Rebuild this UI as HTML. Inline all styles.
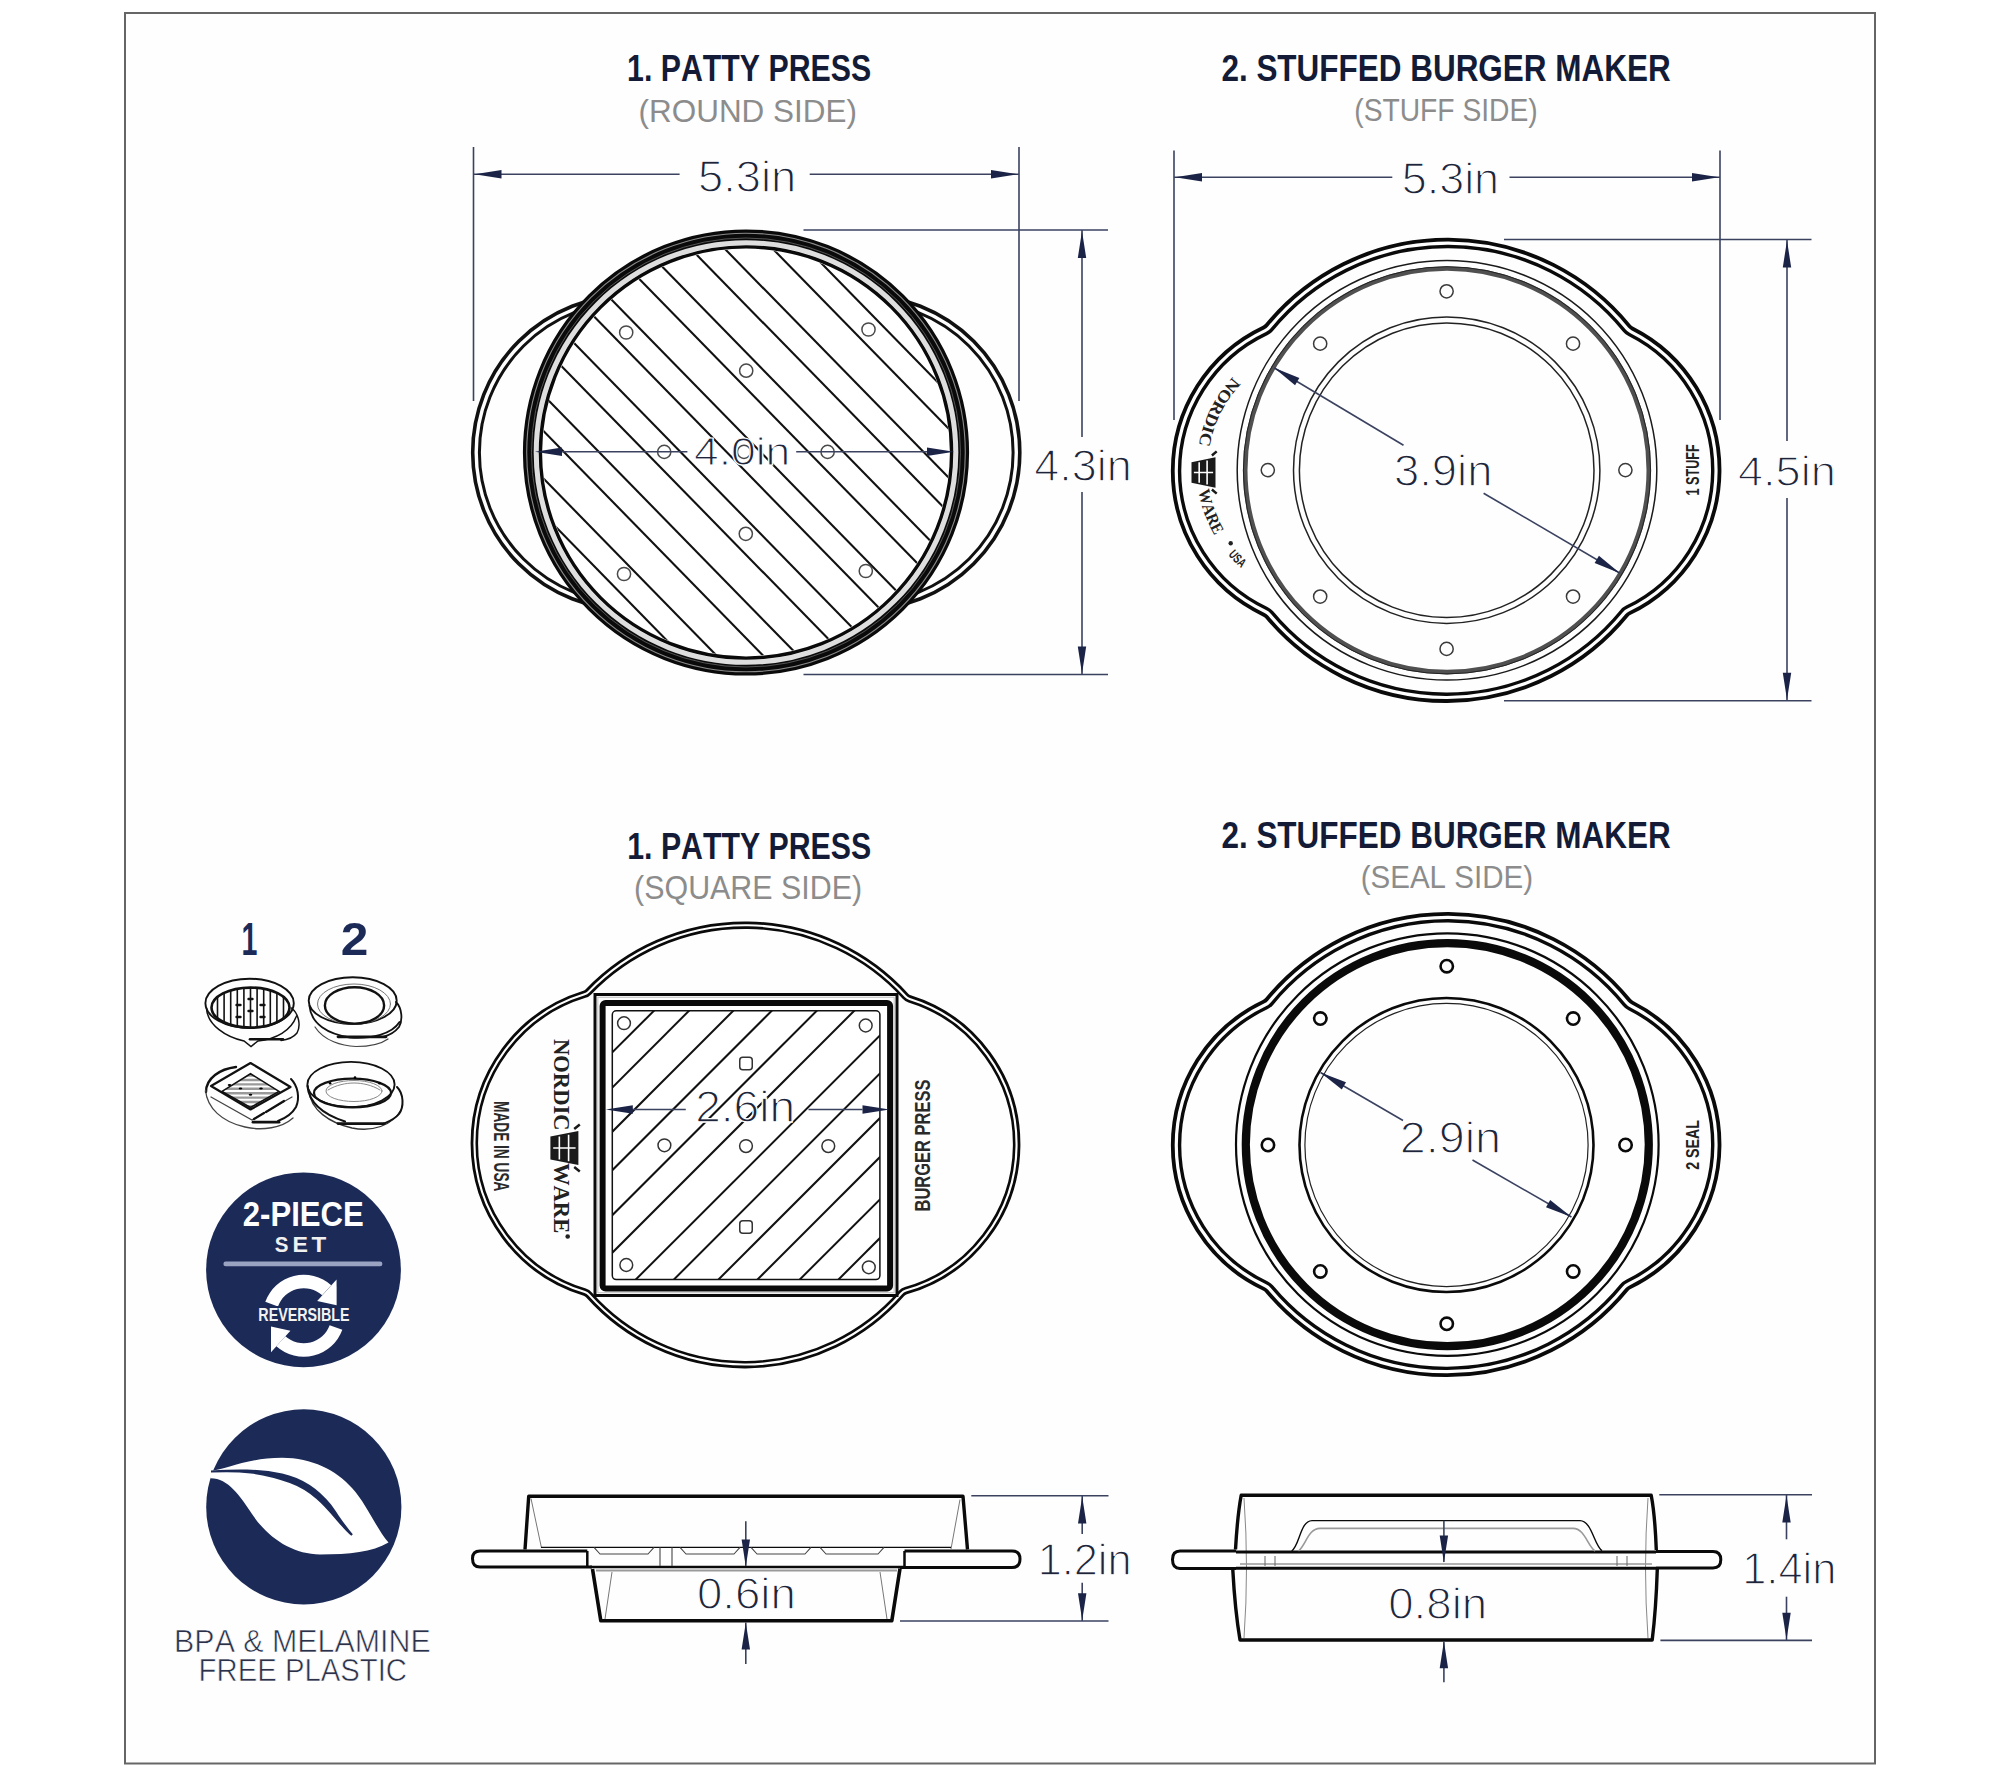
<!DOCTYPE html>
<html><head><meta charset="utf-8"><title>Burger Press Dimensions</title>
<style>
html,body{margin:0;padding:0;background:#fff;width:2000px;height:1778px;overflow:hidden}
svg{font-family:"Liberation Sans",sans-serif} svg text{font-kerning:none}
</style></head><body>
<svg xmlns="http://www.w3.org/2000/svg" width="2000" height="1778" viewBox="0 0 2000 1778" style="position:absolute;left:0;top:0">
<rect x="0" y="0" width="2000" height="1778" fill="#fff"/>
<rect x="125" y="13" width="1750" height="1750.5" fill="#fefefe" stroke="#666" stroke-width="2"/>
<text x="627.09" y="81.2" font-size="37.06" font-weight="bold" fill="#141b36" textLength="244.09" lengthAdjust="spacingAndGlyphs">1. PATTY PRESS</text>
<text x="638.55" y="121.7" font-size="31.54" font-weight="normal" fill="#8c8c8c" textLength="218.4" lengthAdjust="spacingAndGlyphs">(ROUND SIDE)</text>
<text x="1221.41" y="81" font-size="36.34" font-weight="bold" fill="#141b36" textLength="449.24" lengthAdjust="spacingAndGlyphs">2. STUFFED BURGER MAKER</text>
<text x="1354.25" y="121" font-size="31.98" font-weight="normal" fill="#8c8c8c" textLength="183.5" lengthAdjust="spacingAndGlyphs">(STUFF SIDE)</text>
<text x="627.29" y="858.75" font-size="37.06" font-weight="bold" fill="#141b36" textLength="243.89" lengthAdjust="spacingAndGlyphs">1. PATTY PRESS</text>
<text x="634.12" y="899.2" font-size="32.7" font-weight="normal" fill="#8c8c8c" textLength="227.97" lengthAdjust="spacingAndGlyphs">(SQUARE SIDE)</text>
<text x="1221.41" y="847.5" font-size="36.34" font-weight="bold" fill="#141b36" textLength="449.24" lengthAdjust="spacingAndGlyphs">2. STUFFED BURGER MAKER</text>
<text x="1360.67" y="887.5" font-size="30.89" font-weight="normal" fill="#8c8c8c" textLength="172.41" lengthAdjust="spacingAndGlyphs">(SEAL SIDE)</text>
<circle cx="630" cy="452.5" r="157.3" stroke="#111" stroke-width="3.6" fill="none"/>
<circle cx="630" cy="452.5" r="150.6" stroke="#111" stroke-width="3" fill="none"/>
<circle cx="862.5" cy="452.5" r="157.3" stroke="#111" stroke-width="3.6" fill="none"/>
<circle cx="862.5" cy="452.5" r="150.6" stroke="#111" stroke-width="3" fill="none"/>
<circle cx="746" cy="452.5" r="222" stroke="none" stroke-width="0" fill="#fff"/>
<clipPath id="cpR"><circle cx="746" cy="452.5" r="203.5"/></clipPath>
<g clip-path="url(#cpR)" stroke="#111" stroke-width="2.1">
<line x1="248.28" y1="212.5" x2="717.72" y2="692.5"/>
<line x1="283.28" y1="212.5" x2="752.72" y2="692.5"/>
<line x1="329.78" y1="212.5" x2="799.22" y2="692.5"/>
<line x1="364.78" y1="212.5" x2="834.22" y2="692.5"/>
<line x1="411.28" y1="212.5" x2="880.72" y2="692.5"/>
<line x1="446.28" y1="212.5" x2="915.72" y2="692.5"/>
<line x1="492.28" y1="212.5" x2="961.72" y2="692.5"/>
<line x1="526.28" y1="212.5" x2="995.72" y2="692.5"/>
<line x1="574.28" y1="212.5" x2="1043.72" y2="692.5"/>
<line x1="609.28" y1="212.5" x2="1078.72" y2="692.5"/>
<line x1="655.28" y1="212.5" x2="1124.72" y2="692.5"/>
<line x1="689.28" y1="212.5" x2="1158.72" y2="692.5"/>
<line x1="737.28" y1="212.5" x2="1206.72" y2="692.5"/>
<line x1="771.78" y1="212.5" x2="1241.22" y2="692.5"/>
</g>
<circle cx="746" cy="452.5" r="210" stroke="#dedede" stroke-width="5" fill="none"/>
<circle cx="746" cy="452.5" r="205.6" stroke="#0a0a0a" stroke-width="3.4" fill="none"/>
<circle cx="746" cy="452.5" r="217.7" stroke="#0a0a0a" stroke-width="10.8" fill="none"/>
<circle cx="746" cy="452.5" r="219.3" stroke="#8a8a8a" stroke-width="1.1" fill="none"/>
<circle cx="746" cy="452.5" r="214.5" stroke="#666" stroke-width="0.8" fill="none"/>
<circle cx="626.2" cy="332.5" r="6.6" stroke="#4a4a4a" stroke-width="1.5" fill="none"/>
<circle cx="746.2" cy="370.7" r="6.6" stroke="#4a4a4a" stroke-width="1.5" fill="none"/>
<circle cx="868.5" cy="329.5" r="6.6" stroke="#4a4a4a" stroke-width="1.5" fill="none"/>
<circle cx="664.2" cy="451.9" r="6.6" stroke="#4a4a4a" stroke-width="1.5" fill="none"/>
<circle cx="827.6" cy="451.9" r="6.6" stroke="#4a4a4a" stroke-width="1.5" fill="none"/>
<circle cx="745.8" cy="533.8" r="6.6" stroke="#4a4a4a" stroke-width="1.5" fill="none"/>
<circle cx="624" cy="574" r="6.6" stroke="#4a4a4a" stroke-width="1.5" fill="none"/>
<circle cx="865.8" cy="571" r="6.6" stroke="#4a4a4a" stroke-width="1.5" fill="none"/>
<circle cx="744" cy="451.9" r="6.6" stroke="#4a4a4a" stroke-width="1.5" fill="none"/>
<line x1="473.5" y1="147" x2="473.5" y2="401" stroke="#3a4260" stroke-width="1.6"/>
<line x1="1019" y1="147" x2="1019" y2="401" stroke="#3a4260" stroke-width="1.6"/>
<line x1="473.5" y1="174.3" x2="679.6" y2="174.3" stroke="#3a4260" stroke-width="1.6"/>
<line x1="809.7" y1="174.3" x2="1019" y2="174.3" stroke="#3a4260" stroke-width="1.6"/>
<polygon points="474.5,174.3 501.5,170.1 501.5,178.5" fill="#1b2447"/>
<polygon points="1018,174.3 991,178.5 991,170.1" fill="#1b2447"/>
<text x="697.99" y="191.6" font-size="44.19" font-weight="normal" fill="#1e2439" textLength="98.15" lengthAdjust="spacingAndGlyphs" stroke="#fff" stroke-width="1.3">5.3in</text>
<line x1="803.5" y1="230" x2="1108" y2="230" stroke="#3a4260" stroke-width="1.6"/>
<line x1="803.5" y1="674.5" x2="1108" y2="674.5" stroke="#3a4260" stroke-width="1.6"/>
<line x1="1082" y1="230" x2="1082" y2="437" stroke="#3a4260" stroke-width="1.6"/>
<line x1="1082" y1="492" x2="1082" y2="674.5" stroke="#3a4260" stroke-width="1.6"/>
<polygon points="1082,231 1086.2,258 1077.8,258" fill="#1b2447"/>
<polygon points="1082,673.5 1077.8,646.5 1086.2,646.5" fill="#1b2447"/>
<text x="1034.27" y="481.2" font-size="43.61" font-weight="normal" fill="#1e2439" textLength="97.55" lengthAdjust="spacingAndGlyphs" stroke="#fff" stroke-width="1.3">4.3in</text>
<line x1="560" y1="451.8" x2="687.4" y2="451.8" stroke="#3a4260" stroke-width="1.6"/>
<line x1="796.2" y1="451.8" x2="931" y2="451.8" stroke="#3a4260" stroke-width="1.6"/>
<polygon points="535,451.8 562,447.6 562,456" fill="#1b2447"/>
<polygon points="954,451.8 927,456 927,447.6" fill="#1b2447"/>
<text x="693.98" y="465" font-size="39.24" font-weight="normal" fill="#1e2439" textLength="96.3" lengthAdjust="spacingAndGlyphs" stroke="#fff" stroke-width="1.2">4.0in</text>
<path d="M1266.78 325.03 A234.34 234.34 0 0 1 1629.39 326.10 A9.00 9.00 0 0 0 1632.31 328.45 A158.77 158.77 0 0 1 1629.79 613.15 A9.00 9.00 0 0 0 1626.74 615.55 A233.46 233.46 0 0 1 1266.87 617.04 A9.00 9.00 0 0 0 1263.80 614.67 A158.84 158.84 0 0 1 1263.68 327.45 A9.00 9.00 0 0 0 1266.78 325.03 Z" fill="none" stroke="#0a0a0a" stroke-width="3.8" stroke-linejoin="round"/>
<path d="M1272.03 329.36 A227.54 227.54 0 0 1 1624.12 330.39 A15.80 15.80 0 0 0 1629.25 334.52 A151.97 151.97 0 0 1 1626.83 607.03 A15.80 15.80 0 0 0 1621.48 611.24 A226.66 226.66 0 0 1 1272.10 612.69 A15.80 15.80 0 0 0 1266.71 608.52 A152.04 152.04 0 0 1 1266.59 333.59 A15.80 15.80 0 0 0 1272.03 329.36 Z" fill="none" stroke="#0a0a0a" stroke-width="3.4" stroke-linejoin="round"/>
<circle cx="1447" cy="470.3" r="209.8" stroke="#1a1a1a" stroke-width="1.5" fill="none"/>
<circle cx="1447" cy="470.3" r="201.8" stroke="#505050" stroke-width="4.6" fill="none"/>
<circle cx="1447" cy="470.3" r="203.6" stroke="#222" stroke-width="1" fill="none"/>
<circle cx="1446.7" cy="470.2" r="153.2" stroke="#222" stroke-width="1.5" fill="none"/>
<circle cx="1446.7" cy="470.2" r="147.3" stroke="#222" stroke-width="1.5" fill="none"/>
<circle cx="1625.4" cy="470.1" r="6.6" stroke="#3a3a3a" stroke-width="1.5" fill="none"/>
<circle cx="1573.03" cy="596.53" r="6.6" stroke="#3a3a3a" stroke-width="1.5" fill="none"/>
<circle cx="1446.6" cy="648.9" r="6.6" stroke="#3a3a3a" stroke-width="1.5" fill="none"/>
<circle cx="1320.17" cy="596.53" r="6.6" stroke="#3a3a3a" stroke-width="1.5" fill="none"/>
<circle cx="1267.8" cy="470.1" r="6.6" stroke="#3a3a3a" stroke-width="1.5" fill="none"/>
<circle cx="1320.17" cy="343.67" r="6.6" stroke="#3a3a3a" stroke-width="1.5" fill="none"/>
<circle cx="1446.6" cy="291.3" r="6.6" stroke="#3a3a3a" stroke-width="1.5" fill="none"/>
<circle cx="1573.03" cy="343.67" r="6.6" stroke="#3a3a3a" stroke-width="1.5" fill="none"/>
<path id="arc1" d="M1232.78 376.81 A134.3 134.3 0 0 0 1198.74 445.08" fill="none"/>
<text font-size="16.72" font-weight="bold" font-family='"Liberation Serif", serif' fill="#222"><textPath href="#arc1" textLength="77.35" lengthAdjust="spacingAndGlyphs">NORDIC</textPath></text>
<g transform="translate(1203.5 472.5) rotate(90)">
<path d="M-15.3 -12 L15.3 -12 L10.2 12 L-10.2 12 Z" fill="#1a1a1a"/>
<path d="M-11.9 -3.6 L11.9 -3.6 M-10.2 4.32 L10.2 4.32 M0 -9.6 L0 9.6" stroke="#fff" stroke-width="1.6"/>
<path d="M-17 -8.4 L-21.08 -13.2 M17 -8.4 L21.08 -13.2" stroke="#1a1a1a" stroke-width="2.5"/>
</g>
<path id="arc2" d="M1198.54 490.57 A134.3 134.3 0 0 0 1214.69 535.55" fill="none"/>
<text font-size="16.72" font-weight="bold" font-family='"Liberation Serif", serif' fill="#222"><textPath href="#arc2" textLength="48.05" lengthAdjust="spacingAndGlyphs">WARE</textPath></text>
<circle cx="1230.7" cy="543.2" r="2.2" stroke="none" stroke-width="0" fill="#222"/>
<path id="arc3" d="M1228.12 554.73 A134.3 134.3 0 0 0 1241.14 568.2" fill="none"/>
<text font-size="13.08" font-weight="bold" font-family='"Liberation Sans", sans-serif' fill="#222"><textPath href="#arc3" textLength="18.75" lengthAdjust="spacingAndGlyphs">USA</textPath></text>
<text transform="translate(1693.2 469.9) rotate(-90)" x="0" y="6.1" font-size="17.73" font-weight="bold" font-family='"Liberation Sans", sans-serif' fill="#222" text-anchor="middle" textLength="51" lengthAdjust="spacingAndGlyphs">1 STUFF</text>
<line x1="1174" y1="150.5" x2="1174" y2="420" stroke="#3a4260" stroke-width="1.6"/>
<line x1="1720" y1="150.5" x2="1720" y2="420" stroke="#3a4260" stroke-width="1.6"/>
<line x1="1174" y1="177.3" x2="1392.3" y2="177.3" stroke="#3a4260" stroke-width="1.6"/>
<line x1="1509.5" y1="177.3" x2="1720" y2="177.3" stroke="#3a4260" stroke-width="1.6"/>
<polygon points="1175,177.3 1202,173.1 1202,181.5" fill="#1b2447"/>
<polygon points="1719,177.3 1692,181.5 1692,173.1" fill="#1b2447"/>
<text x="1401.7" y="193.75" font-size="43.75" font-weight="normal" fill="#1e2439" textLength="97.42" lengthAdjust="spacingAndGlyphs" stroke="#fff" stroke-width="1.3">5.3in</text>
<line x1="1504" y1="239.5" x2="1811.5" y2="239.5" stroke="#3a4260" stroke-width="1.6"/>
<line x1="1504" y1="700.7" x2="1811.5" y2="700.7" stroke="#3a4260" stroke-width="1.6"/>
<line x1="1787" y1="239.5" x2="1787" y2="441.1" stroke="#3a4260" stroke-width="1.6"/>
<line x1="1787" y1="498.1" x2="1787" y2="700.7" stroke="#3a4260" stroke-width="1.6"/>
<polygon points="1787,240.5 1791.2,267.5 1782.8,267.5" fill="#1b2447"/>
<polygon points="1787,699.7 1782.8,672.7 1791.2,672.7" fill="#1b2447"/>
<text x="1737.96" y="485.8" font-size="42.73" font-weight="normal" fill="#1e2439" textLength="97.87" lengthAdjust="spacingAndGlyphs" stroke="#fff" stroke-width="1.3">4.5in</text>
<line x1="1274" y1="367.75" x2="1403.5" y2="445.25" stroke="#3a4260" stroke-width="1.6"/>
<line x1="1483.6" y1="493.2" x2="1620" y2="573.25" stroke="#3a4260" stroke-width="1.6"/>
<polygon points="1274,367.75 1299.36,377.93 1295.07,385.15" fill="#1b2447"/>
<polygon points="1620,573.25 1594.64,563.07 1598.93,555.85" fill="#1b2447"/>
<text x="1394.02" y="485.85" font-size="44.19" font-weight="normal" fill="#1e2439" textLength="98.43" lengthAdjust="spacingAndGlyphs" stroke="#fff" stroke-width="1.3">3.9in</text>
<path d="M1266.78 999.23 A234.34 234.34 0 0 1 1629.39 1000.30 A9.00 9.00 0 0 0 1632.31 1002.65 A158.77 158.77 0 0 1 1629.79 1287.35 A9.00 9.00 0 0 0 1626.74 1289.75 A233.46 233.46 0 0 1 1266.87 1291.24 A9.00 9.00 0 0 0 1263.80 1288.87 A158.84 158.84 0 0 1 1263.68 1001.65 A9.00 9.00 0 0 0 1266.78 999.23 Z" fill="none" stroke="#0a0a0a" stroke-width="3.8" stroke-linejoin="round"/>
<path d="M1272.03 1003.56 A227.54 227.54 0 0 1 1624.12 1004.59 A15.80 15.80 0 0 0 1629.25 1008.72 A151.97 151.97 0 0 1 1626.83 1281.23 A15.80 15.80 0 0 0 1621.48 1285.44 A226.66 226.66 0 0 1 1272.10 1286.89 A15.80 15.80 0 0 0 1266.71 1282.72 A152.04 152.04 0 0 1 1266.59 1007.79 A15.80 15.80 0 0 0 1272.03 1003.56 Z" fill="none" stroke="#0a0a0a" stroke-width="3.4" stroke-linejoin="round"/>
<circle cx="1447.3" cy="1144.6" r="211.3" stroke="#0a0a0a" stroke-width="2.2" fill="none"/>
<circle cx="1447.3" cy="1144.6" r="201.5" stroke="#0a0a0a" stroke-width="8.2" fill="none"/>
<circle cx="1446.5" cy="1145" r="147" stroke="#0a0a0a" stroke-width="2.6" fill="none"/>
<circle cx="1446.5" cy="1145" r="141.6" stroke="#222" stroke-width="1.2" fill="none"/>
<circle cx="1625.55" cy="1145" r="6.2" stroke="#0a0a0a" stroke-width="2.6" fill="none"/>
<circle cx="1573.18" cy="1271.43" r="6.2" stroke="#0a0a0a" stroke-width="2.6" fill="none"/>
<circle cx="1446.75" cy="1323.8" r="6.2" stroke="#0a0a0a" stroke-width="2.6" fill="none"/>
<circle cx="1320.32" cy="1271.43" r="6.2" stroke="#0a0a0a" stroke-width="2.6" fill="none"/>
<circle cx="1267.95" cy="1145" r="6.2" stroke="#0a0a0a" stroke-width="2.6" fill="none"/>
<circle cx="1320.32" cy="1018.57" r="6.2" stroke="#0a0a0a" stroke-width="2.6" fill="none"/>
<circle cx="1446.75" cy="966.2" r="6.2" stroke="#0a0a0a" stroke-width="2.6" fill="none"/>
<circle cx="1573.18" cy="1018.57" r="6.2" stroke="#0a0a0a" stroke-width="2.6" fill="none"/>
<text transform="translate(1693.3 1145) rotate(-90)" x="0" y="6.1" font-size="17.73" font-weight="bold" font-family='"Liberation Sans", sans-serif' fill="#222" text-anchor="middle" textLength="49.6" lengthAdjust="spacingAndGlyphs">2 SEAL</text>
<line x1="1320.5" y1="1072.5" x2="1403" y2="1120.5" stroke="#3a4260" stroke-width="1.6"/>
<line x1="1472.5" y1="1160" x2="1571.5" y2="1217" stroke="#3a4260" stroke-width="1.6"/>
<polygon points="1320.5,1072.5 1345.99,1082.33 1341.8,1089.61" fill="#1b2447"/>
<polygon points="1571.5,1217 1546.01,1207.17 1550.2,1199.89" fill="#1b2447"/>
<text x="1399.65" y="1152.5" font-size="43.61" font-weight="normal" fill="#1e2439" textLength="101.39" lengthAdjust="spacingAndGlyphs" stroke="#fff" stroke-width="1.3">2.9in</text>
<path d="M586.76 990.18 A219.33 219.33 0 0 1 907.22 994.58 A7.00 7.00 0 0 0 910.32 996.55 A154.61 154.61 0 0 1 906.50 1292.95 A7.00 7.00 0 0 0 903.14 1295.07 A210.68 210.68 0 0 1 587.31 1296.48 A7.00 7.00 0 0 0 584.12 1294.44 A158.09 158.09 0 0 1 583.76 992.02 A7.00 7.00 0 0 0 586.76 990.18 Z" fill="none" stroke="#0a0a0a" stroke-width="2.8"/>
<path d="M590.22 993.50 A214.53 214.53 0 0 1 903.67 997.81 A11.80 11.80 0 0 0 908.89 1001.14 A149.81 149.81 0 0 1 905.19 1288.33 A11.80 11.80 0 0 0 899.52 1291.91 A205.88 205.88 0 0 1 590.89 1293.29 A11.80 11.80 0 0 0 585.51 1289.85 A153.29 153.29 0 0 1 585.17 996.61 A11.80 11.80 0 0 0 590.22 993.50 Z" fill="none" stroke="#0a0a0a" stroke-width="2.6"/>
<rect x="595" y="994.5" width="302" height="301" fill="#fff" stroke="#0a0a0a" stroke-width="3"/>
<rect x="597.8" y="997.3" width="296.4" height="295.4" fill="none" stroke="#c8c8c8" stroke-width="1.2"/>
<rect x="602.6" y="1003" width="287.5" height="285.5" rx="3" fill="none" stroke="#0a0a0a" stroke-width="6"/>
<clipPath id="cpS"><rect x="612.3" y="1010.8" width="267.6" height="268.8" rx="4"/></clipPath>
<g clip-path="url(#cpS)" stroke="#111" stroke-width="2">
<line x1="664.7" y1="1000" x2="364.7" y2="1300"/>
<line x1="699.8" y1="1000" x2="399.8" y2="1300"/>
<line x1="744" y1="1000" x2="444" y2="1300"/>
<line x1="782.5" y1="1000" x2="482.5" y2="1300"/>
<line x1="827.5" y1="1000" x2="527.5" y2="1300"/>
<line x1="865" y1="1000" x2="565" y2="1300"/>
<line x1="915.3" y1="1000" x2="615.3" y2="1300"/>
<line x1="953.4" y1="1000" x2="653.4" y2="1300"/>
<line x1="998" y1="1000" x2="698" y2="1300"/>
<line x1="1037" y1="1000" x2="737" y2="1300"/>
<line x1="1079.3" y1="1000" x2="779.3" y2="1300"/>
<line x1="1118" y1="1000" x2="818" y2="1300"/>
</g>
<rect x="612.3" y="1010.8" width="267.6" height="268.8" rx="4" fill="none" stroke="#111" stroke-width="1.5"/>
<circle cx="624" cy="1023.2" r="6.4" stroke="#333" stroke-width="1.5" fill="none"/>
<circle cx="865.7" cy="1025.5" r="6.4" stroke="#333" stroke-width="1.5" fill="none"/>
<circle cx="626.3" cy="1265" r="6.4" stroke="#333" stroke-width="1.5" fill="none"/>
<circle cx="868.8" cy="1267.3" r="6.4" stroke="#333" stroke-width="1.5" fill="none"/>
<circle cx="664.4" cy="1145.3" r="6.4" stroke="#333" stroke-width="1.5" fill="none"/>
<circle cx="746" cy="1146.1" r="6.4" stroke="#333" stroke-width="1.5" fill="none"/>
<circle cx="828.3" cy="1146.1" r="6.4" stroke="#333" stroke-width="1.5" fill="none"/>
<rect x="739.75" y="1057.35" width="12.5" height="12.5" rx="3" fill="none" stroke="#333" stroke-width="1.5"/>
<rect x="739.75" y="1220.75" width="12.5" height="12.5" rx="3" fill="none" stroke="#333" stroke-width="1.5"/>
<text transform="translate(561.3 1084.8) rotate(90)" x="0" y="7.75" font-size="22.53" font-weight="bold" font-family='"Liberation Serif", serif' fill="#222" text-anchor="middle" textLength="91.8" lengthAdjust="spacingAndGlyphs">NORDIC</text>
<g transform="translate(564.4 1148) rotate(90)">
<path d="M-17.1 -14 L17.1 -14 L11.4 14 L-11.4 14 Z" fill="#1a1a1a"/>
<path d="M-13.3 -4.2 L13.3 -4.2 M-11.4 5.04 L11.4 5.04 M0 -11.2 L0 11.2" stroke="#fff" stroke-width="1.6"/>
<path d="M-19 -9.8 L-23.56 -15.4 M19 -9.8 L23.56 -15.4" stroke="#1a1a1a" stroke-width="2.5"/>
</g>
<text transform="translate(561.3 1198.1) rotate(90)" x="0" y="7.75" font-size="22.53" font-weight="bold" font-family='"Liberation Serif", serif' fill="#222" text-anchor="middle" textLength="70.2" lengthAdjust="spacingAndGlyphs">WARE</text>
<circle cx="567.7" cy="1236.5" r="2.3" stroke="none" stroke-width="0" fill="#222"/>
<text transform="translate(501.2 1146.2) rotate(90)" x="0" y="7.5" font-size="21.8" font-weight="bold" font-family='"Liberation Sans", sans-serif' fill="#2a2a2a" text-anchor="middle" textLength="90.4" lengthAdjust="spacingAndGlyphs">MADE IN USA</text>
<text transform="translate(922.5 1145.5) rotate(-90)" x="0" y="7.5" font-size="21.8" font-weight="bold" font-family='"Liberation Sans", sans-serif' fill="#2a2a2a" text-anchor="middle" textLength="132" lengthAdjust="spacingAndGlyphs">BURGER PRESS</text>
<line x1="630.6" y1="1109.5" x2="685.8" y2="1109.5" stroke="#3a4260" stroke-width="1.6"/>
<line x1="808.5" y1="1109.5" x2="862.5" y2="1109.5" stroke="#3a4260" stroke-width="1.6"/>
<polygon points="605.8,1109.5 632.8,1105.3 632.8,1113.7" fill="#1b2447"/>
<polygon points="889.5,1109.5 862.5,1113.7 862.5,1105.3" fill="#1b2447"/>
<text x="695.19" y="1121.5" font-size="43.61" font-weight="normal" fill="#1e2439" textLength="99.8" lengthAdjust="spacingAndGlyphs" stroke="#fff" stroke-width="1.3">2.6in</text>
<g fill="none" stroke="#0a0a0a" stroke-linejoin="round">
<path d="M525 1549.5 L528.7 1496.3 L963 1496.3 L967.5 1549.5" stroke-width="3.4"/>
<path d="M531 1498.5 L541.5 1548 M960 1499.5 L951 1549" stroke-width="1" stroke="#777"/>
<path d="M587.3 1551 L480 1551 Q472.5 1551 472.5 1558.5 Q472.5 1567 480 1567 L592 1567" stroke-width="3"/>
<path d="M904.5 1551 L1012 1551 Q1020 1551 1020 1559 Q1020 1567.5 1012 1567.5 L900 1567.5" stroke-width="3"/>
<path d="M587.3 1551 L587.3 1567 M904.5 1551 L904.5 1567.5" stroke-width="2.5"/>
<path d="M541 1547.3 L951 1547.3" stroke-width="1.3"/>
<path d="M590 1567 L904 1567" stroke-width="2.6"/>
<path d="M596 1570.5 L897 1570.5" stroke-width="2.2" stroke="#9a9a9a"/>
<path d="M592.5 1569 L600.8 1620.8 L891.8 1620.8 L900 1568.5" stroke-width="3.6"/>
<path d="M612 1572 L605 1619 M880 1572 L887 1619" stroke-width="1" stroke="#777"/>
<path d="M594 1547.3 L600 1554 L648 1554 L654 1547.3 M660 1547.3 L660 1566 M672 1547.3 L672 1566 M680 1547.3 L686 1554 L734 1554 L740 1547.3 M751 1547.3 L757 1554 L805 1554 L811 1547.3 M820 1547.3 L826 1554 L878 1554 L884 1547.3" stroke-width="1.1" stroke="#444"/>
</g>
<line x1="971.3" y1="1495.8" x2="1108.5" y2="1495.8" stroke="#3a4260" stroke-width="1.6"/>
<line x1="900" y1="1621" x2="1108.5" y2="1621" stroke="#3a4260" stroke-width="1.6"/>
<line x1="1082.2" y1="1495.8" x2="1082.2" y2="1534" stroke="#3a4260" stroke-width="1.6"/>
<line x1="1082.2" y1="1582.8" x2="1082.2" y2="1621" stroke="#3a4260" stroke-width="1.6"/>
<polygon points="1082.2,1496.5 1086.4,1523.5 1078,1523.5" fill="#1b2447"/>
<polygon points="1082.2,1620.3 1078,1593.3 1086.4,1593.3" fill="#1b2447"/>
<text x="1037.7" y="1574.5" font-size="44.62" font-weight="normal" fill="#1e2439" textLength="93.86" lengthAdjust="spacingAndGlyphs" stroke="#fff" stroke-width="1.3">1.2in</text>
<line x1="745.8" y1="1521.3" x2="745.8" y2="1566" stroke="#3a4260" stroke-width="1.6"/>
<polygon points="745.8,1566.5 741.6,1539.5 750,1539.5" fill="#1b2447"/>
<line x1="745.8" y1="1622.5" x2="745.8" y2="1664" stroke="#3a4260" stroke-width="1.6"/>
<polygon points="745.8,1622.5 750,1649.5 741.6,1649.5" fill="#1b2447"/>
<text x="696.92" y="1608.9" font-size="44.91" font-weight="normal" fill="#1e2439" textLength="98.95" lengthAdjust="spacingAndGlyphs" stroke="#fff" stroke-width="1.3">0.6in</text>
<g fill="none" stroke="#0a0a0a" stroke-linejoin="round">
<path d="M1235.5 1549.5 Q1237.5 1515 1241.2 1495.2 L1651.2 1495.2 Q1655 1515 1656.3 1550" stroke-width="3.4"/>
<path d="M1232.8 1569.8 Q1235 1610 1240 1640 L1652.2 1640 Q1656 1610 1657.3 1569" stroke-width="3.4"/>
<path d="M1244 1498 Q1249 1568 1244 1638 M1648 1498 Q1643 1568 1648 1638" stroke-width="1" stroke="#888"/>
<path d="M1236 1551 L1180 1551 Q1172.5 1551 1172.5 1559.5 Q1172.5 1568.5 1180 1568.5 L1236 1568.5" stroke-width="3"/>
<path d="M1656 1551.5 L1713 1551.5 Q1720.8 1551.5 1720.8 1559.8 Q1720.8 1568 1713 1568 L1656 1568" stroke-width="3"/>
<path d="M1236 1552 L1656 1552" stroke-width="3"/>
<path d="M1236 1568.3 L1656 1568.3" stroke-width="3"/>
<path d="M1240 1564 L1652 1564" stroke-width="1.6" stroke="#999"/>
<path d="M1291.7 1551 C1300 1545 1300 1521 1312 1520.6 L1580 1520.6 C1592 1521 1594 1545 1602 1550.6" stroke-width="1.4"/>
<path d="M1298.5 1551 C1306 1545 1308 1528.6 1320 1528.4 L1573 1528.4 C1585 1528.6 1587 1545 1595 1551" stroke-width="1.6" stroke="#999"/>
<path d="M1265 1556 L1265 1566 M1275 1556 L1275 1566 M1617 1556 L1617 1566 M1627 1556 L1627 1566" stroke-width="1" stroke="#666"/>
</g>
<line x1="1659.3" y1="1494.8" x2="1812" y2="1494.8" stroke="#3a4260" stroke-width="1.6"/>
<line x1="1660.4" y1="1640.4" x2="1812" y2="1640.4" stroke="#3a4260" stroke-width="1.6"/>
<line x1="1786.5" y1="1494.8" x2="1786.5" y2="1539.3" stroke="#3a4260" stroke-width="1.6"/>
<line x1="1786.5" y1="1596.7" x2="1786.5" y2="1640.4" stroke="#3a4260" stroke-width="1.6"/>
<polygon points="1786.5,1495.5 1790.7,1522.5 1782.3,1522.5" fill="#1b2447"/>
<polygon points="1786.5,1639.8 1782.3,1612.8 1790.7,1612.8" fill="#1b2447"/>
<text x="1742.19" y="1584.4" font-size="44.62" font-weight="normal" fill="#1e2439" textLength="94.23" lengthAdjust="spacingAndGlyphs" stroke="#fff" stroke-width="1.3">1.4in</text>
<line x1="1443.9" y1="1520.8" x2="1443.9" y2="1562" stroke="#3a4260" stroke-width="1.6"/>
<polygon points="1443.9,1562.5 1439.7,1535.5 1448.1,1535.5" fill="#1b2447"/>
<line x1="1443.9" y1="1641.2" x2="1443.9" y2="1682.3" stroke="#3a4260" stroke-width="1.6"/>
<polygon points="1443.9,1641.2 1448.1,1668.2 1439.7,1668.2" fill="#1b2447"/>
<text x="1388.22" y="1619.3" font-size="44.19" font-weight="normal" fill="#1e2439" textLength="98.95" lengthAdjust="spacingAndGlyphs" stroke="#fff" stroke-width="1.3">0.8in</text>
<text x="241.5" y="954.8" font-size="46.95" font-weight="bold" fill="#1c2a58" textLength="15.9" lengthAdjust="spacingAndGlyphs">1</text>
<text x="340.68" y="954.8" font-size="46.95" font-weight="bold" fill="#1c2a58" textLength="27.61" lengthAdjust="spacingAndGlyphs">2</text>
<g fill="none" stroke="#111" stroke-width="1.5" stroke-linecap="round">
<path d="M206.5 1008 C207 1025 226 1037 244 1041 L251 1046.5 L258 1041 C276 1039 291 1031 296.5 1016"/>
<path d="M291.5 1008 C299 1014 301 1026 297 1033 C293 1038 286 1040 281 1040.5"/>
<path d="M250 1039.2 L283 1039.2" stroke-width="2.6"/>
<ellipse cx="249.6" cy="1003.3" rx="44.2" ry="24.6" stroke-width="1.9"/>
<clipPath id="ci1"><ellipse cx="250.5" cy="1007.6" rx="39" ry="20"/></clipPath>
<g clip-path="url(#ci1)" stroke-width="1.6">
<line x1="210.9" y1="985" x2="210.9" y2="1030"/>
<line x1="217.5" y1="985" x2="217.5" y2="1030"/>
<line x1="224.1" y1="985" x2="224.1" y2="1030"/>
<line x1="230.7" y1="985" x2="230.7" y2="1030"/>
<line x1="237.3" y1="985" x2="237.3" y2="1030"/>
<line x1="243.9" y1="985" x2="243.9" y2="1030"/>
<line x1="250.5" y1="985" x2="250.5" y2="1030"/>
<line x1="257.1" y1="985" x2="257.1" y2="1030"/>
<line x1="263.7" y1="985" x2="263.7" y2="1030"/>
<line x1="270.3" y1="985" x2="270.3" y2="1030"/>
<line x1="276.9" y1="985" x2="276.9" y2="1030"/>
<line x1="283.5" y1="985" x2="283.5" y2="1030"/>
<line x1="290.1" y1="985" x2="290.1" y2="1030"/>
</g>
<ellipse cx="250.5" cy="1007.6" rx="39" ry="20" stroke-width="2.6"/>
<line x1="236.5" y1="1005" x2="240.5" y2="1005" stroke-width="2.4"/>
<line x1="248.5" y1="999" x2="252.5" y2="999" stroke-width="2.4"/>
<line x1="248.5" y1="1011" x2="252.5" y2="1011" stroke-width="2.4"/>
<line x1="260.5" y1="1005" x2="264.5" y2="1005" stroke-width="2.4"/>
<line x1="236.5" y1="1017" x2="240.5" y2="1017" stroke-width="2.4"/>
<line x1="260.5" y1="1017" x2="264.5" y2="1017" stroke-width="2.4"/>
<path d="M309.5 1006 C311 1024 328 1034 350 1037.5 C372 1039 392 1034 399.5 1022" stroke-width="1.8"/>
<path d="M315 1027 C324 1041 342 1046 356 1046.5 C370 1046.5 381 1044 388 1039" stroke-width="1.2" stroke="#444"/>
<path d="M396 1002 C402 1008 403 1020 399 1027 C395 1032 390 1035 384 1036.5" stroke-width="1.8"/>
<path d="M338 1036.8 L386 1036.8" stroke-width="2.8"/>
<ellipse cx="352.7" cy="1000.7" rx="44" ry="23.4" stroke-width="1.9"/>
<ellipse cx="354" cy="1004" rx="36.5" ry="20" stroke-width="1" stroke="#777"/>
<ellipse cx="354.5" cy="1005.4" rx="29.6" ry="18.2" stroke-width="2.4"/>
<path d="M206 1092 C206 1078 220 1069 236 1067" stroke-width="2.4"/>
<path d="M205.5 1090 C207 1108 222 1122 245 1127 C262 1131 282 1128 293 1118" stroke-width="1.3" stroke="#444"/>
<path d="M211 1097 L252 1120 L292 1097" stroke-width="1.3" stroke="#444"/>
<path d="M291 1079 C298 1086 300 1098 296 1107 C292 1114 286 1118 278 1121" stroke-width="2"/>
<path d="M253 1122.2 L279 1122.2" stroke-width="2.8"/>
<path d="M254 1119 L264 1113 M266 1112 L284 1101" stroke-width="2.2"/>
<path d="M250.5 1063 L290.5 1087 L250.5 1109.5 L211 1086 Z" fill="#fff" stroke-width="2.2" stroke-linejoin="round"/>
<clipPath id="ci3"><path d="M250.5 1073.7 L279 1091.4 L250.5 1107.5 L222 1091.4 Z"/></clipPath>
<g clip-path="url(#ci3)">
<rect x="215" y="1070" width="70" height="40" fill="#9a9a9a" stroke="none"/>
<line x1="215" y1="1073.4" x2="285" y2="1073.4" stroke="#fff" stroke-width="2"/>
<line x1="215" y1="1077.8" x2="285" y2="1077.8" stroke="#fff" stroke-width="2"/>
<line x1="215" y1="1082.2" x2="285" y2="1082.2" stroke="#fff" stroke-width="2"/>
<line x1="215" y1="1086.6" x2="285" y2="1086.6" stroke="#fff" stroke-width="2"/>
<line x1="215" y1="1091" x2="285" y2="1091" stroke="#fff" stroke-width="2"/>
<line x1="215" y1="1095.4" x2="285" y2="1095.4" stroke="#fff" stroke-width="2"/>
<line x1="215" y1="1099.8" x2="285" y2="1099.8" stroke="#fff" stroke-width="2"/>
<line x1="215" y1="1104.2" x2="285" y2="1104.2" stroke="#fff" stroke-width="2"/>
</g>
<path d="M250.5 1073.7 L279 1091.4 L250.5 1107.5 L222 1091.4 Z" stroke-width="1.6"/>
<ellipse cx="240.5" cy="1088.5" rx="1.8" ry="1" fill="#000" stroke="none"/>
<ellipse cx="261" cy="1088.5" rx="1.8" ry="1" fill="#000" stroke="none"/>
<ellipse cx="250.5" cy="1094.8" rx="1.8" ry="1" fill="#000" stroke="none"/>
<ellipse cx="229.5" cy="1085" rx="1.8" ry="1" fill="#000" stroke="none"/>
<path d="M309 1090 C310 1110 330 1123 352 1128 C372 1132 392 1126 401 1110" stroke-width="1.3" stroke="#333"/>
<path d="M307.5 1086 C309 1102 322 1114 345 1121.5" stroke-width="2.2"/>
<path d="M397 1087 C404 1094 404 1107 399 1114 C395 1119 390 1121 384 1123.5" stroke-width="2"/>
<path d="M338 1123.6 L384 1123.6" stroke-width="2.8"/>
<ellipse cx="351" cy="1084.5" rx="43.6" ry="22.6" stroke-width="1.9"/>
<ellipse cx="352.5" cy="1093" rx="38.5" ry="14.3" stroke-width="2.2"/>
<ellipse cx="354" cy="1091" rx="28" ry="10.5" stroke-width="1" stroke="#888"/>
<path d="M328 1090 C336 1085 346 1083 354 1083 C362 1083 372 1085 380 1090" stroke-width="1" stroke="#888"/>
<circle cx="330.1" cy="1083.2" r="1.3" fill="#000" stroke="none"/>
<circle cx="355" cy="1077.6" r="1.3" fill="#000" stroke="none"/>
<circle cx="379.5" cy="1083.2" r="1.3" fill="#000" stroke="none"/>
</g>
<circle cx="303.5" cy="1269.8" r="97.4" stroke="none" stroke-width="0" fill="#1c2a58"/>
<text x="242.72" y="1225.6" font-size="35.18" font-weight="bold" fill="#fff" textLength="121.1" lengthAdjust="spacingAndGlyphs">2-PIECE</text>
<text x="274.81" y="1252.2" font-size="22.53" font-weight="bold" fill="#f0f0f0" textLength="13.69" lengthAdjust="spacingAndGlyphs">S</text>
<text x="292.45" y="1252.2" font-size="22.53" font-weight="bold" fill="#f0f0f0" textLength="15.46" lengthAdjust="spacingAndGlyphs">E</text>
<text x="311.63" y="1252.2" font-size="22.53" font-weight="bold" fill="#f0f0f0" textLength="14.73" lengthAdjust="spacingAndGlyphs">T</text>
<rect x="223.4" y="1261.6" width="159" height="4.6" rx="2.3" fill="#9aa3c2"/>
<path d="M265.27 1301.78 A41 41 0 0 1 331.23 1285.33 L322.2 1295.36 A27.5 27.5 0 0 0 277.96 1306.39 Z" fill="#fff"/>
<path d="M342.33 1329.82 A41 41 0 0 1 276.37 1346.27 L285.4 1336.24 A27.5 27.5 0 0 0 329.64 1325.21 Z" fill="#fff"/>
<polygon points="317.18,1300.94 336.59,1279.39 336.61,1305.14" fill="#fff"/>
<polygon points="290.42,1330.66 271.01,1352.21 270.99,1326.46" fill="#fff"/>
<rect x="256" y="1306" width="96" height="17" fill="#1c2a58"/>
<text x="258.35" y="1321.4" font-size="17.73" font-weight="bold" fill="#f2f2f2" textLength="91.21" lengthAdjust="spacingAndGlyphs">REVERSIBLE</text>
<circle cx="303.8" cy="1506.9" r="97.6" stroke="none" stroke-width="0" fill="#1b2a57"/>
<path d="M210.5 1471 C226 1469.5 246 1458 282 1457.8 C312 1458 336 1470 352 1488 C366 1503 376 1528 388.5 1542.5 C372 1552 350 1554.5 320 1554.5 C292 1554 268 1538 252 1514 C240 1496 228 1478 210.3 1478.3 Z" fill="#fff"/>
<path d="M211 1471.5 C240 1470 262 1472 290 1482 C312 1490 325 1505 336 1518 C343 1526 347 1531 352 1535 C344 1526 338 1516 330 1505 C318 1490 302 1479 282 1474.5 C258 1469.5 236 1470 211 1471.5 Z" fill="#1b2a57" stroke="#1b2a57" stroke-width="2.2"/>
<text x="174.11" y="1651.6" font-size="30.52" font-weight="normal" fill="#2b3148" textLength="256.6" lengthAdjust="spacingAndGlyphs" stroke="#fff" stroke-width="0.6">BPA &amp; MELAMINE</text>
<text x="198.6" y="1681.2" font-size="31.69" font-weight="normal" fill="#2b3148" textLength="208.42" lengthAdjust="spacingAndGlyphs" stroke="#fff" stroke-width="0.6">FREE PLASTIC</text>
</svg>
</body></html>
